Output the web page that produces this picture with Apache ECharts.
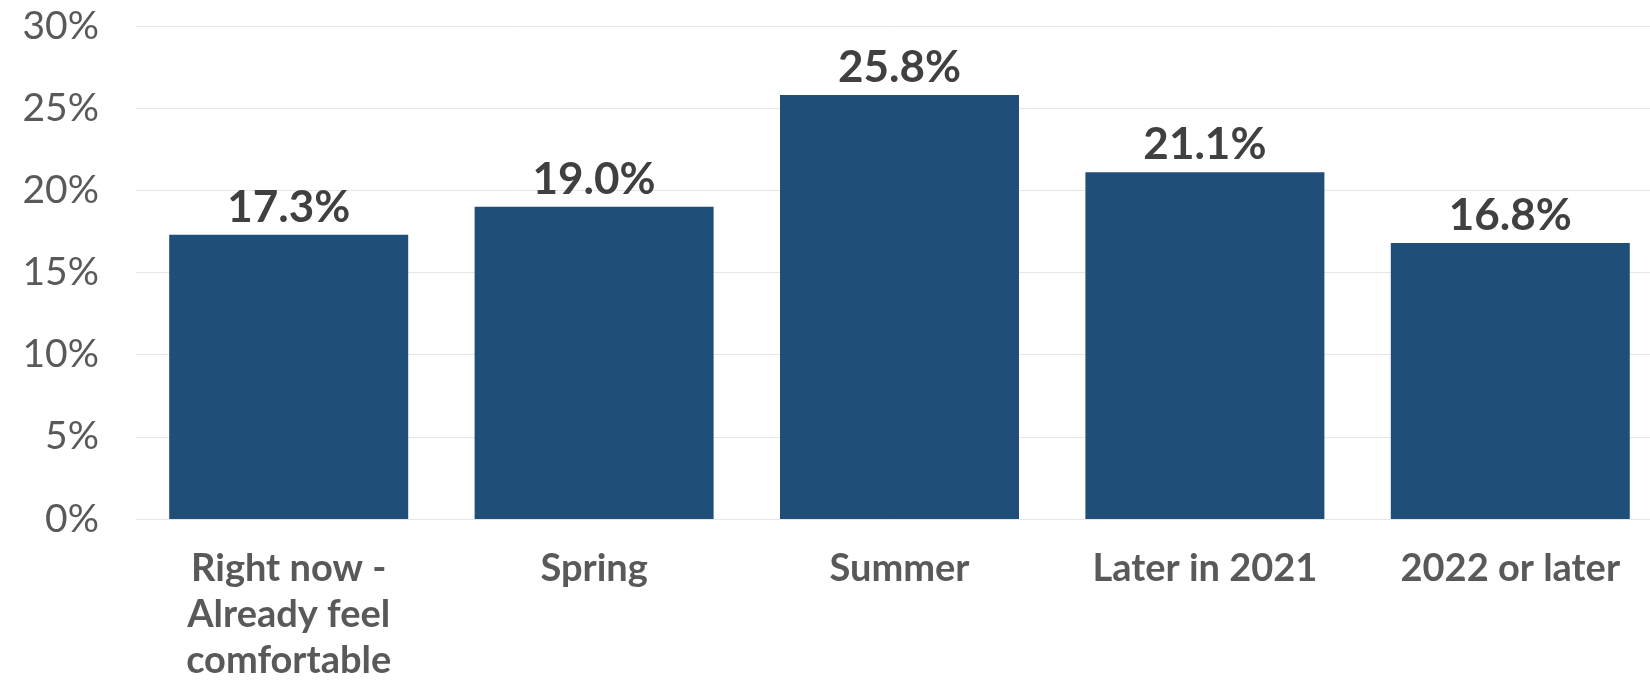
<!DOCTYPE html>
<html><head><meta charset="utf-8">
<script src="https://cdn.jsdelivr.net/npm/echarts@6/dist/echarts.min.js"></script>
<style>html,body{margin:0;padding:0;background:#fff}#c{width:1650px;height:681px}</style>
</head><body><div id="c"></div>
<script>
const categories = ['Right now -\nAlready feel\ncomfortable', 'Spring', 'Summer', 'Later in 2021', '2022 or later'];
const values = [17.3, 19.0, 25.8, 21.1, 16.8];
const yTicks = [0, 5, 10, 15, 20, 25, 30];

const chart = echarts.init(document.getElementById('c'), null, {renderer: 'canvas'});
chart.setOption({
  animation: false,
  grid: {left: 136, right: -13, top: 26, bottom: 162, containLabel: false, outerBoundsMode: 'none'},
  xAxis: {
    type: 'category', data: categories,
    axisLine: {show: false}, axisTick: {show: false},
    axisLabel: {color: '#595959', fontFamily: 'Lato', fontWeight: 'bold', fontSize: 38, lineHeight: 46, margin: 27, interval: 0}
  },
  yAxis: {
    type: 'value', min: yTicks[0], max: yTicks[yTicks.length - 1], interval: 5,
    axisLine: {show: false}, axisTick: {show: false},
    splitLine: {lineStyle: {color: '#e6e6e6', width: 1}},
    axisLabel: {color: '#595959', fontFamily: 'Lato', fontSize: 39, margin: 37, formatter: v => v + '%'}
  },
  series: [{
    type: 'bar', data: values, barWidth: 239,
    itemStyle: {color: '#1F4E79'},
    label: {show: true, position: 'top', distance: 5, color: '#404040', fontFamily: 'Lato', fontWeight: 'bold', fontSize: 44,
      formatter: p => p.value.toFixed(1) + '%'}
  }]
});
</script></body></html>
